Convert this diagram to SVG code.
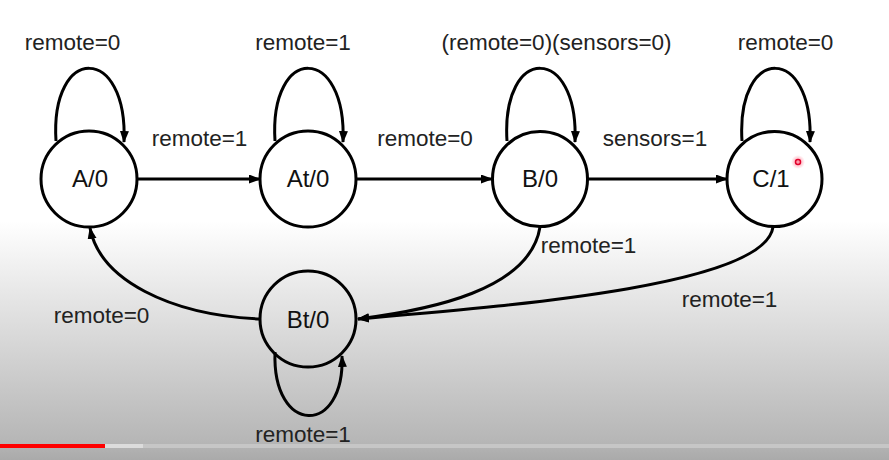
<svg xmlns="http://www.w3.org/2000/svg" width="889" height="460" viewBox="0 0 889 460">
<defs>
<linearGradient id="bg" x1="0" y1="0" x2="0" y2="460" gradientUnits="userSpaceOnUse">
<stop offset="0" stop-color="#ffffff"/>
<stop offset="0.48" stop-color="#ffffff"/>
<stop offset="0.96" stop-color="#b6b6b6"/>
<stop offset="1" stop-color="#aaaaaa"/>
</linearGradient>
<radialGradient id="glow">
<stop offset="0" stop-color="#ff4060" stop-opacity="0.6"/>
<stop offset="1" stop-color="#ff4060" stop-opacity="0"/>
</radialGradient>
<marker id="ah" markerUnits="userSpaceOnUse" markerWidth="13" markerHeight="10" refX="11" refY="4.5" orient="auto">
<path d="M0,0 L12,4.5 L0,9 z" fill="#000"/>
</marker>
</defs>
<style>
.node{fill:none;stroke:#000;stroke-width:3}
.edge{fill:none;stroke:#000;stroke-width:3;marker-end:url(#ah)}
.lbl{font-family:"Liberation Sans",Arial,sans-serif;font-size:22.5px;fill:#222;text-anchor:middle}
.nl{font-family:"Liberation Sans",Arial,sans-serif;font-size:24px;fill:#111;text-anchor:middle}
</style>
<rect x="0" y="0" width="889" height="460" fill="url(#bg)"/>
<rect x="0" y="444" width="889" height="4" fill="#c6c6c6"/>
<rect x="105" y="444" width="38" height="4" fill="#dcdcdc"/>
<rect x="0" y="444" width="105" height="4" fill="#ff0000"/>

<g id="connectors">
<path class="edge" d="M56,141 C50,44 128,44 124,142"/>
<path class="edge" d="M275,141 C269,44 347,44 343,142"/>
<path class="edge" d="M507,141 C501,44 579,44 575,142"/>
<path class="edge" d="M742,141 C736,44 814,44 810,142"/>
<path class="edge" d="M275,352 C272,436 345,436 342,356"/>
<path class="edge" d="M137,179 L260,179"/>
<path class="edge" d="M356,179 L492,179"/>
<path class="edge" d="M588,179 L727,179"/>
<path class="edge" d="M260,319 C170,315 100,280 90,228"/>
<path class="edge" d="M540,227 C530,290 430,310 358,319"/>
<path class="edge" d="M773,227 C765,285 520,305 358,319"/>
<text class="lbl" x="72.5" y="50">remote=0</text>
<text class="lbl" x="303" y="50">remote=1</text>
<text class="lbl" x="556.5" y="50">(remote=0)(sensors=0)</text>
<text class="lbl" x="785.5" y="50">remote=0</text>
<text class="lbl" x="199.5" y="146">remote=1</text>
<text class="lbl" x="425" y="146">remote=0</text>
<text class="lbl" x="655" y="146">sensors=1</text>
<text class="lbl" x="588.5" y="253">remote=1</text>
<text class="lbl" x="729.5" y="307">remote=1</text>
<text class="lbl" x="101.5" y="323">remote=0</text>
<text class="lbl" x="303" y="442">remote=1</text>
</g>

<g id="node-A0"><circle class="node" cx="89" cy="179" r="48"/><text class="nl" x="90" y="187">A/0</text></g>
<g id="node-At0"><circle class="node" cx="308" cy="179" r="48"/><text class="nl" x="308" y="187">At/0</text></g>
<g id="node-B0"><circle class="node" cx="540" cy="179" r="47.5"/><text class="nl" x="540" y="187">B/0</text></g>
<g id="node-C1"><circle class="node" cx="774.5" cy="179" r="47.5"/><text class="nl" x="771" y="187">C/1</text></g>
<g id="node-Bt0"><circle class="node" cx="308" cy="319" r="48"/><text class="nl" x="308" y="328">Bt/0</text></g>

<circle cx="798" cy="162" r="7" fill="url(#glow)"/>
<circle cx="798" cy="162" r="2.5" fill="none" stroke="#e0002a" stroke-width="1.5"/>
</svg>
